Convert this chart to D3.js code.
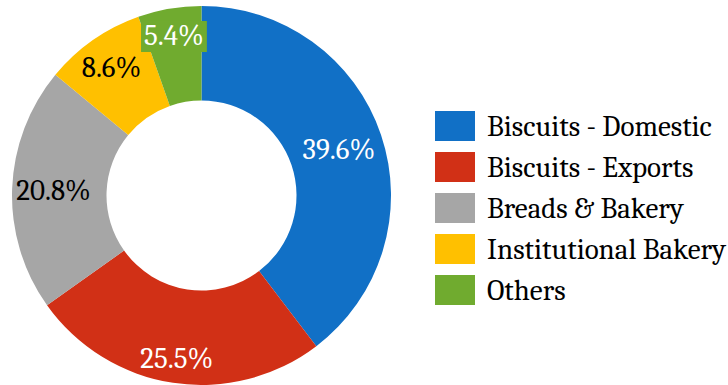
<!DOCTYPE html>
<html>
<head>
<meta charset="utf-8">
<script src="https://cdn.jsdelivr.net/npm/d3@7"></script>
<style>
  html, body { margin: 0; padding: 0; background: #fff; }
  svg { display: block; }
</style>
</head>
<body>
<svg id="chart" width="728" height="385"></svg>
<script>
// Revenue mix by segment (%)
const categories = ["Biscuits - Domestic", "Biscuits - Exports", "Breads & Bakery", "Institutional Bakery", "Others"];
const shares = [39.6, 25.5, 20.8, 8.6, 5.4];
const valueLabels = ["39.6%", "25.5%", "20.8%", "8.6%", "5.4%"];

// Styling / layout
const FONT = "Caladea, 'Liberation Serif', serif";
const colors = ["#1170C6", "#D13016", "#A6A6A6", "#FFC000", "#70AB2F"];
const labelColors = ["#fff", "#fff", "#000", "#000", "#fff"];
const labelRadius = [145, 164, 148, 157, 163];
const labelBoxed = [false, false, false, false, true];

const svg = d3.select("#chart");
const cx = 201.5, cy = 195.5, outerR = 189.5, innerR = 95;

const color = d3.scaleOrdinal().domain(categories).range(colors);

const pie = d3.pie().sort(null).value(d => d.value);
const data = categories.map((c, i) => ({ name: c, value: shares[i], label: valueLabels[i], i }));
const arcs = pie(data);

const arc = d3.arc().innerRadius(innerR).outerRadius(outerR);

const g = svg.append("g").attr("transform", `translate(${cx},${cy})`);

g.selectAll("path.slice")
  .data(arcs)
  .join("path")
  .attr("class", "slice")
  .attr("d", arc)
  .attr("fill", d => color(d.data.name));

// Data labels
const lbl = g.selectAll("g.lbl")
  .data(arcs)
  .join("g")
  .attr("class", "lbl")
  .attr("transform", d => {
    const r = labelRadius[d.data.i];
    const c = d3.arc().innerRadius(r).outerRadius(r).centroid(d);
    return `translate(${c[0]},${c[1]})`;
  });

lbl.each(function(d) {
  const sel = d3.select(this);
  const t = sel.append("text")
    .attr("text-anchor", "middle")
    .attr("dy", "0.35em")
    .attr("font-family", FONT)
    .attr("font-size", 29)
    .attr("fill", labelColors[d.data.i])
    .text(d.data.label);
  if (labelBoxed[d.data.i]) {
    const bb = t.node().getBBox();
    sel.insert("rect", "text")
      .attr("x", bb.x - 3)
      .attr("y", bb.y + 2)
      .attr("width", bb.width + 6)
      .attr("height", bb.height - 2)
      .attr("fill", color(d.data.name));
  }
});

// Legend
const legend = svg.append("g").attr("transform", "translate(435,111)");
const row = legend.selectAll("g")
  .data(categories)
  .join("g")
  .attr("transform", (d, i) => `translate(0,${i * 41})`);
row.append("rect")
  .attr("width", 40)
  .attr("height", 30)
  .attr("fill", d => color(d));
row.append("text")
  .attr("x", 52)
  .attr("y", 24.5)
  .attr("font-family", FONT)
  .attr("font-size", 29)
  .attr("fill", "#000")
  .text(d => d);
</script>
</body>
</html>
